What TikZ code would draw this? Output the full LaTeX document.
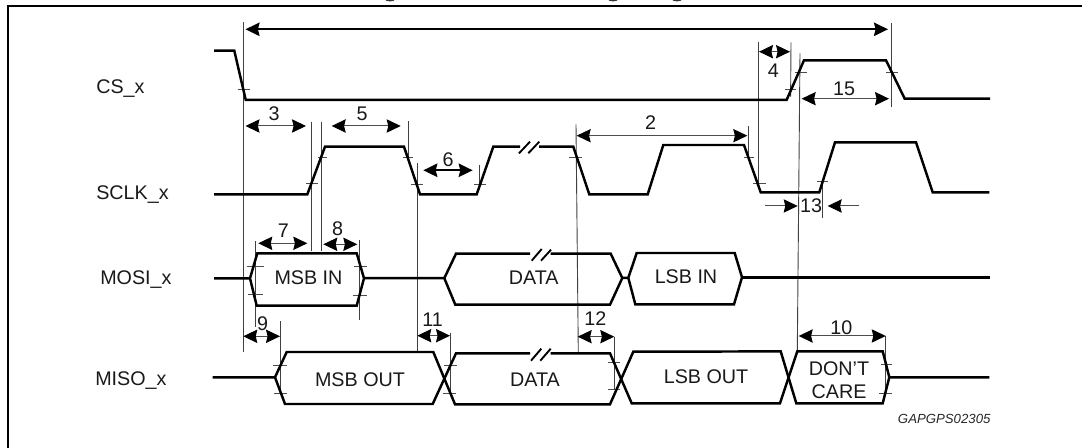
\documentclass[tikz,border=0pt]{standalone}
\usepackage{fontspec}
\setmainfont{Liberation Sans}
\usetikzlibrary{arrows.meta}
\tikzset{
  sig/.style={line width=1.85pt,line join=miter,line cap=butt,black},
  guide/.style={line width=0.68pt,black!75},
  tick/.style={line width=0.68pt,black!70},
  dim/.style={line width=0.75pt,black!70,{Stealth[length=10.5pt,width=10pt,inset=1.2pt,black]}-{Stealth[length=10.5pt,width=10pt,inset=1.2pt,black]}},
  dimthick/.style={dim,line width=1.7pt,black},
  dimin/.style={line width=0.75pt,black!70,-{Stealth[length=10.5pt,width=10pt,inset=1.2pt,black]}},
  txt/.style={inner sep=0pt,anchor=base,font=\fontsize{14.8}{17}\selectfont,text=black!90},
  signame/.style={txt,anchor=base west},
  num/.style={inner sep=0pt,anchor=center,font=\fontsize{14.8}{17}\selectfont,text=black!90},
  frameline/.style={line width=1.7pt,black}
}
\begin{document}
\begin{tikzpicture}[x=0.75pt,y=-0.75pt]
\useasboundingbox (0,0) rectangle (1082,448);
% frame
\draw[frameline] (1082,5.7) -- (7.8,5.7) -- (7.8,448);
% remnants of the title's descenders
\foreach \x in {390,613,677} \fill[black!80] (\x,-0.6) ellipse (5 and 2);
% guides
\draw[guide] (243.5,22) -- (243.5,352.3);
\draw[guide] (311.7,121.7) -- (311.7,251.3);
\draw[guide] (321.7,121.7) -- (321.7,251.3);
\draw[guide] (408,121) -- (408,158);
\draw[guide] (417,163.3) -- (417,351.7);
\draw[guide] (479.3,165) -- (479.3,184);
\draw[guide] (576,124.3) -- (578.3,353);
\draw[guide] (748.7,125.7) -- (748.7,156.7);
\draw[guide] (758.3,42.3) -- (758.3,183.3);
\draw[guide] (791,42.3) -- (790.6,96.7);
\draw[guide] (800,53.3) -- (797.3,350.7);
\draw[guide] (891.7,23.3) -- (891.7,107.3);
\draw[guide] (822.3,181.7) -- (822.3,218.3);
\draw[guide] (255,241.5) -- (255,327);
\draw[guide] (280,321.3) -- (280,391);
\draw[guide] (359.3,240) -- (359.3,320);
\draw[guide] (450,333.3) -- (450,394);
\draw[guide] (614.3,336.7) -- (614.3,389);
\draw[guide] (885.7,336) -- (885.7,394);
% ticks
\foreach \a/\b/\y in {237.7/250/89, 306/318.3/183.7, 318.3/327.3/157.3,
  403.3/412.7/157, 410.7/423.3/184, 474.3/486/184, 569/582/157.7,
  744/754/157.3, 753.3/765.7/183.7, 817.3/828.3/181.7,
  785/795.7/89, 795/806.7/72, 885.7/898.3/72,
  246.7/264/266, 248.3/262.7/294.7, 354/367.3/266, 352.7/367.3/295,
  273.3/286.7/365, 274/286.7/393, 444/457.3/365.3, 443.3/456/393.7,
  608.3/620/362.3, 608.3/620/389, 880.7/892/364.7, 879.3/892/393.3}
  \draw[tick] (\a,\y) -- (\b,\y);
% CS
\draw[sig] (214,50.7) -- (234.3,50.7) -- (245.7,99.8) -- (786.7,99.8) -- (804,60.3) -- (886,60.3) -- (904.7,98.7) -- (990,98.7);
% SCLK
\draw[sig] (214,194.4) -- (307.3,194.4) -- (325,146.7) -- (404,146.7) -- (420,194.3) -- (476.7,194.3) -- (493.3,146.7) -- (520,146.7);
\draw[sig] (539,146.7) -- (573.3,146.7) -- (589.3,194.3) -- (647.7,194.3) -- (663.3,145) -- (744,145) -- (760.7,192.3) -- (819.3,192.3) -- (835,142.3) -- (916,142.3) -- (932.7,192.3) -- (989.3,192.3);
\draw[sig,line width=1.4pt] (519,153.3) -- (530,141.7);
\draw[sig,line width=1.4pt] (528.3,153.3) -- (539.3,141.7);
% MOSI
\draw[sig] (214,278.3) -- (250,278.3) -- (257.3,253.3) -- (356.7,253.3) -- (364,278.3) -- (356.7,305.7) -- (256.7,305.7) -- (250,278.3);
\draw[sig] (364,278.2) -- (444.3,278.2) -- (456,253.7) -- (530,253.7);
\draw[sig] (550.7,253.7) -- (610.7,253.7) -- (622.3,278) -- (610,304.7) -- (455.3,304.7) -- (444.3,278.2);
\draw[sig,line width=1.4pt] (531.7,260.7) -- (541.7,249);
\draw[sig,line width=1.4pt] (541,260.7) -- (551,249.7);
\draw[sig] (622.3,277.8) -- (628.3,277.8) -- (636.7,253) -- (734.7,253) -- (742,277.3) -- (734,304.3) -- (635.3,304.3) -- (628.3,277.8);
\draw[sig] (742,277.3) -- (990,277.3);
% MISO
\draw[sig] (212.7,377.3) -- (275,377.3) -- (286.7,352) -- (433.3,352) -- (455,404.3) -- (610,404.3) -- (633.3,351.7) -- (780.7,351.4) -- (796.3,403.3) -- (882.7,403.3) -- (889.3,377.3) -- (989.3,377.3);
\draw[sig] (275,377.3) -- (285,404) -- (432.7,404) -- (456,353.3) -- (530,353.3);
\draw[sig] (550.7,353.3) -- (610,353.3) -- (631.7,403.3) -- (780,403.3) -- (797.3,351.3) -- (882.7,351.3) -- (889.3,377.3);
\draw[sig,line width=1.4pt] (531,360.7) -- (541.3,348.7);
\draw[sig,line width=1.4pt] (540.3,360.7) -- (550.7,348.7);
% dimension arrows
\draw[dimthick] (245.5,29.3) -- (888,29.3);
\draw[dim] (245.5,126) -- (306,126);
\draw[dim] (331.7,126) -- (400.7,126);
\draw[dimthick] (423.3,170.3) -- (472.7,170.3);
\draw[dim] (576.7,135.7) -- (747.3,135.7);
\draw[dim] (759,51.7) -- (790,51.7);
\draw[dim] (801.7,98.7) -- (889,98.7);
\draw[dim] (258.3,243.3) -- (307.3,243.3);
\draw[dim] (323.3,244.3) -- (357.3,244.3);
\draw[dim] (243.3,336.3) -- (280,336.3);
\draw[dim] (417.3,335.7) -- (450,335.7);
\draw[dim] (577.7,336.7) -- (614.3,336.7);
\draw[dim] (798.7,336) -- (885.7,336);
\draw[dimin] (765,206) -- (797.7,206);
\draw[dimin] (859.3,206) -- (827.7,206);
% signal names
\node[signame] (csname) at (96,94) {CS\_x};
\node[signame] (sclkname) at (96,200) {SCLK\_x};
\node[signame] (mosiname) at (100,285) {MOSI\_x};
\node[signame] (misoname) at (95,386) {MISO\_x};
% numbers
\node[num] (n3) at (274,114) {3};
\node[num] (n5) at (362,114) {5};
\node[num] (n6) at (448,160) {6};
\node[num] (n2) at (650.7,122.3) {2};
\node[num] (n4) at (773.3,71) {4};
\node[num] (n15) at (844,89.3) {15};
\node[num] (n13) at (811,206) {13};
\node[num] (n7) at (283.3,230.7) {7};
\node[num] (n8) at (337.7,229) {8};
\node[num] (n9) at (262.7,324) {9};
\node[num] (n11) at (432.7,319.7) {11};
\node[num] (n12) at (595.3,318.3) {12};
\node[num] (n10) at (841.3,327.3) {10};
% bus texts
\node[txt] (msbin) at (308.5,285) {MSB IN};
\node[txt] (msbout) at (360,386.3) {MSB OUT};
\node[txt] (data1) at (533.7,285) {DATA};
\node[txt] (data2) at (535,386.3) {DATA};
\node[txt] (lsbin) at (686,284) {LSB IN};
\node[txt] (lsbout) at (706,384) {LSB OUT};
\node[txt] (dont) at (839,376) {DON’T};
\node[txt] (care) at (839,399) {CARE};
\node[inner sep=0pt,anchor=base east,font=\fontsize{9.9}{12}\selectfont\itshape,text=black!85] (code) at (990.7,424) {GAPGPS02305};
\end{tikzpicture}
\end{document}
